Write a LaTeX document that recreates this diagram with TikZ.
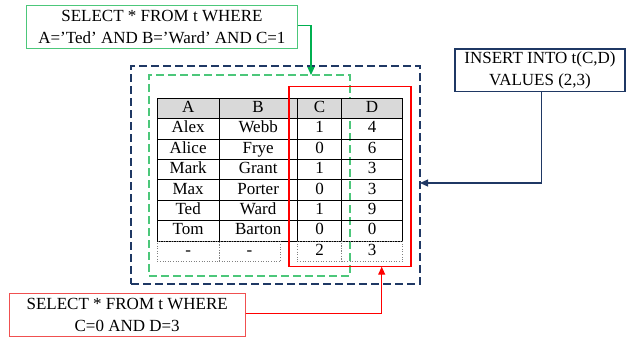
\documentclass[tikz,border=0pt]{standalone}
\usepackage{fontspec}
\setmainfont{Liberation Serif}
\usetikzlibrary{arrows.meta}
\definecolor{navy}{HTML}{1F3864}
\definecolor{qgreen}{HTML}{00B050}
\definecolor{lgreen}{HTML}{4CC77A}
\definecolor{qred}{HTML}{FF0000}
\definecolor{lred}{HTML}{F05050}
\definecolor{hdr}{HTML}{D9D9D9}
\tikzset{
  query/.style={draw, line width=1.1pt, fill=white, inner sep=0pt, align=center,
    font=\fontsize{17}{22.5}\selectfont},
  cell/.style={draw, line width=0.9pt, inner sep=0pt, minimum height=20.4pt,
    text height=11.5pt, text depth=3.5pt,
    font=\fontsize{17}{20}\selectfont, anchor=center},
  dcell/.style={draw=gray, dotted, line width=0.6pt, inner sep=0pt, minimum height=20.4pt,
    text height=11.5pt, text depth=3.5pt,
    font=\fontsize{17}{20}\selectfont, anchor=center},
  tip/.style={-{Triangle[length=8pt,width=7pt]}, line width=1.1pt},
}
\begin{document}
\begin{tikzpicture}[x=1pt,y=-1pt]
\useasboundingbox (0,0) rectangle (627,338);
% outer frames
\node[draw=navy, dash pattern=on 8pt off 4pt, line width=1.1pt, minimum width=289pt, minimum height=218pt, inner sep=0pt] (ndash) at (275.5,175) {};
\node[draw=lgreen, dash pattern=on 8pt off 4pt, line width=1.8pt, minimum width=201pt, minimum height=200.7pt, inner sep=0pt] (gdash) at (249.5,175.4) {};
% table
\foreach \r/\a/\b/\c/\d [count=\i from 0] in {A/B/C/D, Alex/Webb/1/4, Alice/Frye/0/6, Mark/Grant/1/3, Max/Porter/0/3, Ted/Ward/1/9, Tom/Barton/0/0}{
  \pgfmathsetmacro{\yy}{98.3+20.4*(\i+0.5)}
  \ifnum\i=0
    \node[cell, fill=hdr, minimum width=61.7pt] (c\i-1) at (188.15,\yy) {\r};
    \node[cell, fill=hdr, minimum width=78.3pt] (c\i-2) at (258.15,\yy) {\a};
    \node[cell, fill=hdr, minimum width=44.4pt] (c\i-3) at (319.5,\yy) {\b};
    \node[cell, fill=hdr, minimum width=60.6pt] (c\i-4) at (372,\yy) {\c};
  \else
    \node[cell, minimum width=61.7pt] (c\i-1) at (188.15,\yy) {\r};
    \node[cell, minimum width=78.3pt] (c\i-2) at (258.15,\yy) {\a};
    \node[cell, minimum width=44.4pt] (c\i-3) at (319.5,\yy) {\b};
    \node[cell, minimum width=60.6pt] (c\i-4) at (372,\yy) {\c};
  \fi
}
% last dotted row
\node[dcell, minimum width=61.7pt] (c7-1) at (188.15,251.4) {-};
\node[dcell, minimum width=61pt] (c7-2) at (249.5,251.4) {-};
\node[dcell, minimum width=44.4pt] (c7-3) at (319.5,251.4) {2};
\node[dcell, minimum width=60.6pt] (c7-4) at (372,251.4) {3};
% red selection frame
\node[draw=qred, line width=1.1pt, minimum width=122pt, minimum height=180pt, inner sep=0pt] (rsel) at (350,176.7) {};
% query boxes
\node[query, draw=lgreen, minimum width=270.3pt, minimum height=43.7pt] (qg) at (161.9,26.9) {SELECT * FROM t WHERE\\A=’Ted’ AND B=’Ward’ AND C=1};
\node[query, draw=navy, minimum width=170pt, minimum height=42.7pt] (qi) at (540,70.3) {INSERT INTO t(C,D)\\VALUES (2,3)};
\node[query, draw=lred, minimum width=235.7pt, minimum height=43.4pt] (qr) at (127.2,315) {SELECT * FROM t WHERE\\C=0 AND D=3};
% connectors
\coordinate (gtip) at (311,75);
\coordinate (ntip) at (420,183);
\coordinate (rtip) at (381.7,266.7);
\draw[tip, qgreen] ([yshift=1.4pt]qg.east) -| (gtip);
\draw[tip, navy] ([xshift=1.7pt]qi.south) |- (ntip);
\draw[tip, qred] ([yshift=1.7pt]qr.east) -| (rtip);
\end{tikzpicture}
\end{document}
